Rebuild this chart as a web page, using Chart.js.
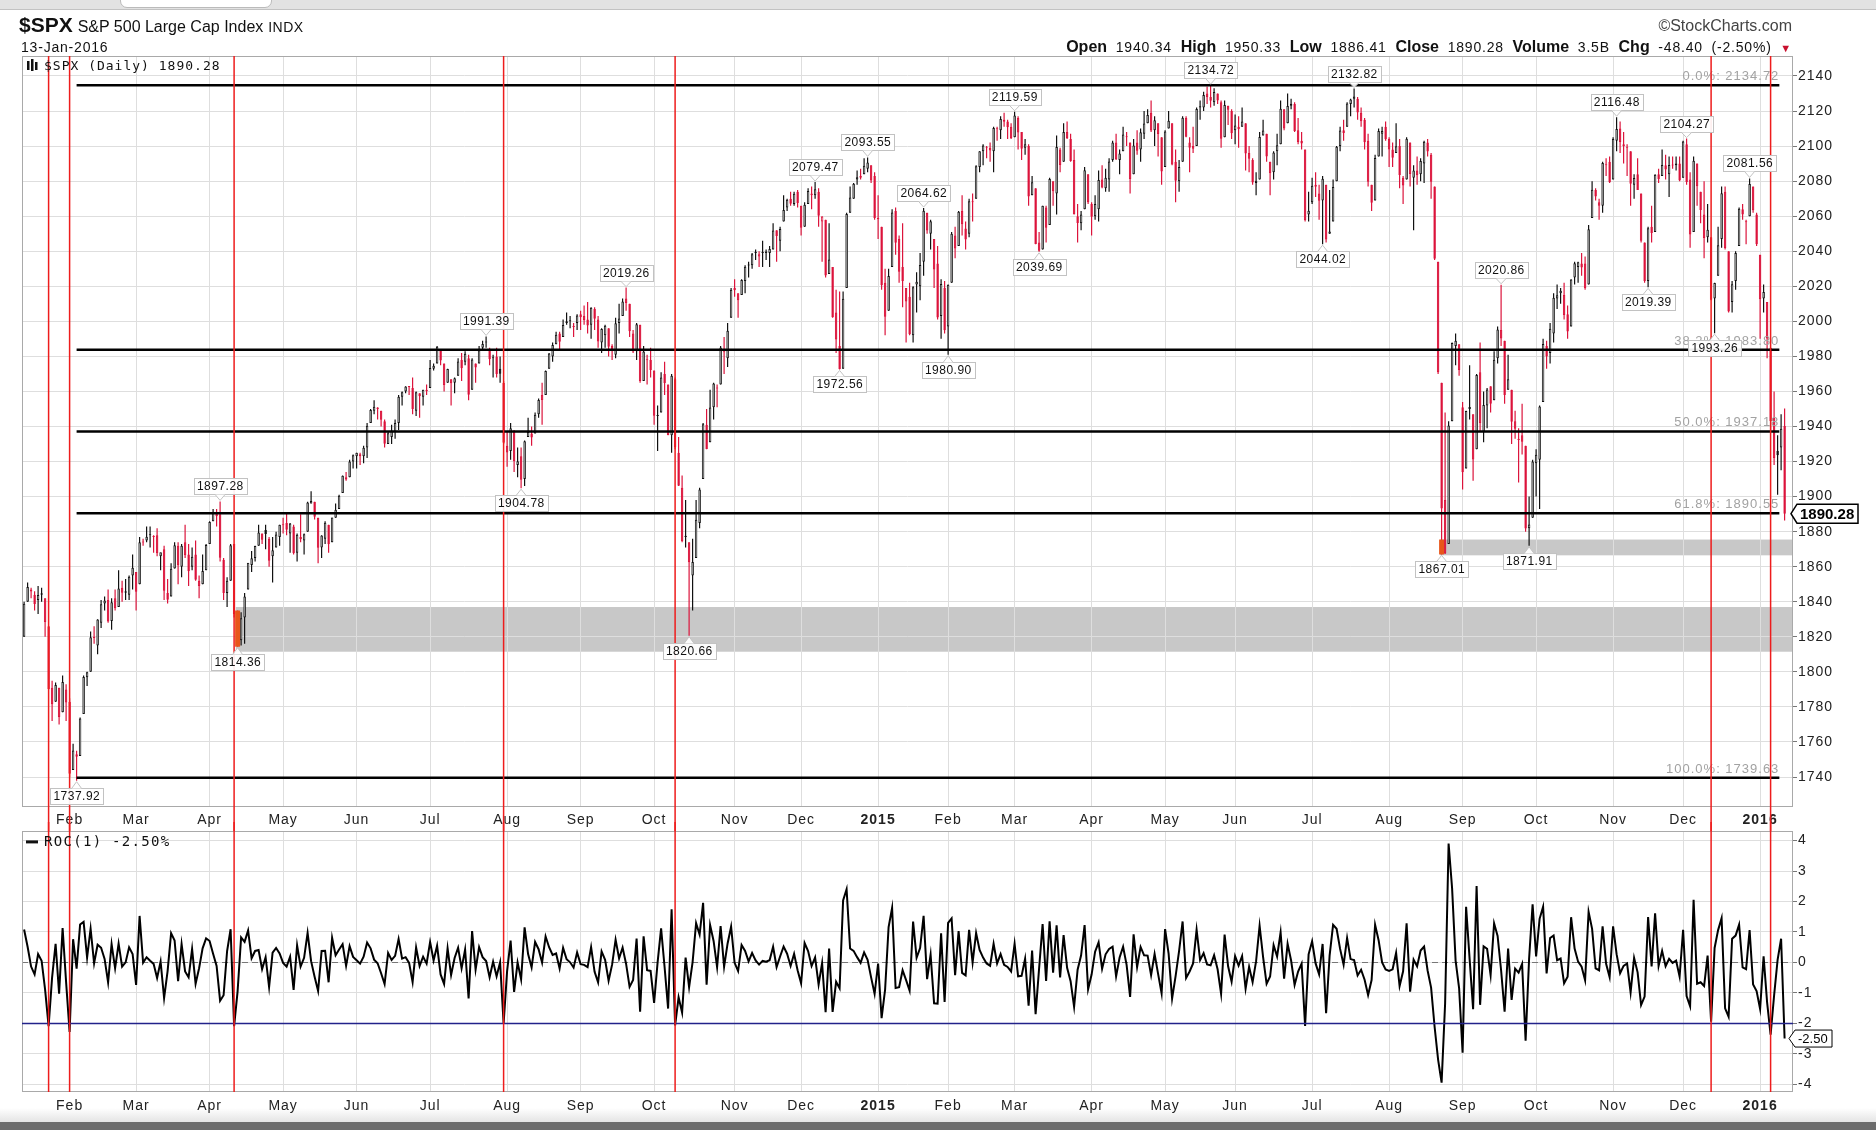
<!DOCTYPE html>
<html>
<head>
<meta charset="utf-8">
<script src="https://cdn.jsdelivr.net/npm/chart.js@4.4.1/dist/chart.umd.min.js"></script>
<style>
  html, body { margin: 0; padding: 0; background: #fff; width: 1876px; height: 1130px; overflow: hidden; }
  body { font-family: "Liberation Sans", Arial, sans-serif; color: #111; }
  #topbar { position: absolute; left: 0; top: 0; width: 1876px; height: 9px; background: #e2e2e2; border-bottom: 1px solid #c2c2c2; }
  #tab { position: absolute; left: 120px; top: -8px; width: 150px; height: 14px; background: #fff; border: 1px solid #bbb; border-radius: 7px; }
  #shade { position: absolute; left: 0; top: 1108px; width: 1876px; height: 14px; background: linear-gradient(#fff, #e4e4e4); }
  #bottom { position: absolute; left: 0; top: 1122px; width: 1876px; height: 8px; background: #6c6c6c; }
  canvas { position: absolute; left: 0; }
  #mainC { top: 0; }
  #rocC { top: 822px; }
  .t { position: absolute; white-space: nowrap; letter-spacing: 0.5px; }
</style>
</head>
<body>
<div id="topbar"><div id="tab"></div></div>
<div id="shade"></div>
<div id="bottom"></div>
<canvas id="mainC" width="1876" height="831"></canvas>
<canvas id="rocC" width="1876" height="300"></canvas>

<div class="t" style="left:19px;top:13px;line-height:24px;">
  <b style="font-size:21px;letter-spacing:0;">$SPX</b>
  <span style="font-size:16px;letter-spacing:0;">S&amp;P 500 Large Cap Index</span>
  <span style="font-size:14px;">INDX</span>
</div>
<div class="t" style="left:21px;top:39px;font-size:14px;line-height:16px;letter-spacing:0.8px;">13-Jan-2016</div>
<div class="t" style="right:84px;top:16px;font-size:16px;line-height:20px;color:#444;letter-spacing:0;">&copy;StockCharts.com</div>
<div class="t" style="right:84px;top:38px;font-size:14px;line-height:18px;word-spacing:4px;letter-spacing:0.8px;">
  <b style="font-size:16px;letter-spacing:0;">Open</b> 1940.34
  <b style="font-size:16px;letter-spacing:0;">High</b> 1950.33
  <b style="font-size:16px;letter-spacing:0;">Low</b> 1886.41
  <b style="font-size:16px;letter-spacing:0;">Close</b> 1890.28
  <b style="font-size:16px;letter-spacing:0;">Volume</b> 3.5B
  <b style="font-size:16px;letter-spacing:0;">Chg</b> -48.40 (-2.50%) <span style="color:#c8102e;font-size:11px;">&#9660;</span>
</div>

<script>
// $SPX daily, 14-Jan-2014 .. 13-Jan-2016
const priorClose = 1819.20; // 13-Jan-2014, used for the first ROC(1) value

// trading days per month (Jan 2014 partial .. Jan 2016 partial)
const monthDays = [13, 19, 21, 21, 21, 21, 22, 21, 21, 23, 19, 22, 20, 19, 22, 21, 20, 22, 22, 21, 21, 22, 20, 22, 8];
const monthLabels = ['Feb', 'Mar', 'Apr', 'May', 'Jun', 'Jul', 'Aug', 'Sep', 'Oct', 'Nov', 'Dec', '2015',
  'Feb', 'Mar', 'Apr', 'May', 'Jun', 'Jul', 'Aug', 'Sep', 'Oct', 'Nov', 'Dec', '2016'];

const closes = [
  1838.88, 1848.38, 1845.89, 1838.70, 1843.80, 1844.86, 1828.46, 1790.29, 1781.56, 1792.50, 1774.20, 1794.19, 1782.59,
  1741.89, 1755.20, 1751.64, 1773.43, 1797.02, 1799.84, 1819.75, 1819.26, 1829.83, 1838.63, 1840.76, 1828.75, 1839.78, 1836.25, 1847.61, 1845.12, 1845.16, 1854.29, 1859.45,
  1845.73, 1873.91, 1873.81, 1877.03, 1878.04, 1877.17, 1867.63, 1868.20, 1846.34, 1841.13, 1858.83, 1872.25, 1860.77, 1872.01, 1866.52, 1857.44, 1865.62, 1852.56, 1849.04, 1857.62, 1872.34,
  1885.52, 1890.90, 1888.77, 1865.09, 1845.04, 1851.96, 1872.18, 1833.08, 1815.69, 1830.61, 1842.98, 1862.31, 1864.85, 1871.89, 1879.55, 1875.39, 1878.61, 1863.40, 1869.43, 1878.33, 1883.95,
  1883.68, 1881.14, 1884.66, 1867.72, 1878.21, 1875.63, 1878.48, 1896.65, 1897.45, 1888.53, 1870.85, 1877.86, 1885.08, 1872.83, 1888.03, 1892.49, 1900.53, 1911.91, 1909.78, 1920.03, 1923.57,
  1924.97, 1924.24, 1927.88, 1940.46, 1949.44, 1951.27, 1950.79, 1943.89, 1930.11, 1936.16, 1937.78, 1941.99, 1956.98, 1959.48, 1962.87, 1962.61, 1949.98, 1959.53, 1957.22, 1960.96, 1960.23,
  1973.32, 1974.62, 1985.44, 1977.65, 1963.71, 1972.83, 1964.68, 1967.57, 1977.10, 1973.28, 1981.57, 1958.12, 1978.22, 1973.63, 1983.53, 1987.01, 1987.98, 1978.34, 1978.91, 1969.95, 1970.07, 1930.67,
  1925.15, 1938.99, 1920.21, 1920.24, 1909.57, 1931.59, 1936.92, 1933.75, 1946.72, 1955.18, 1955.06, 1971.74, 1981.60, 1986.51, 1992.37, 1988.40, 1997.92, 2000.02, 2000.12, 1996.74, 2003.37,
  2002.28, 2000.72, 1997.65, 2007.71, 2001.54, 1988.44, 1995.69, 1997.45, 1985.54, 1984.13, 1998.98, 2001.57, 2011.36, 2010.40, 1994.29, 1982.77, 1998.30, 1965.99, 1982.85, 1977.80, 1972.29,
  1946.16, 1946.17, 1967.90, 1964.82, 1935.10, 1968.89, 1928.21, 1906.13, 1874.74, 1877.70, 1862.49, 1862.76, 1886.76, 1904.01, 1941.28, 1927.11, 1950.82, 1964.58, 1961.63, 1985.05, 1982.30, 1994.65, 2018.05,
  2017.81, 2012.10, 2023.57, 2031.21, 2031.92, 2038.26, 2039.68, 2038.25, 2039.33, 2039.82, 2041.32, 2051.80, 2048.72, 2052.75, 2063.50, 2069.41, 2067.03, 2072.83, 2067.56,
  2053.44, 2066.55, 2074.33, 2071.92, 2075.37, 2060.31, 2059.82, 2026.14, 2035.33, 2002.33, 1989.63, 1972.74, 2012.89, 2061.23, 2070.65, 2078.54, 2082.17, 2081.88, 2088.77, 2090.57, 2080.35, 2058.90,
  2058.20, 2020.58, 2002.61, 2025.90, 2062.14, 2044.81, 2028.26, 2023.03, 2011.27, 1992.67, 2019.42, 2022.55, 2032.12, 2063.15, 2051.82, 2057.09, 2029.55, 2002.16, 2021.25, 1994.99,
  2020.85, 2050.03, 2041.51, 2062.52, 2055.47, 2046.74, 2068.59, 2068.53, 2088.48, 2096.99, 2100.34, 2099.68, 2097.45, 2110.30, 2109.66, 2115.48, 2113.86, 2110.74, 2104.50,
  2117.39, 2107.78, 2098.53, 2101.04, 2071.26, 2079.43, 2044.16, 2040.24, 2065.95, 2053.40, 2081.19, 2074.28, 2099.50, 2089.27, 2108.10, 2104.42, 2091.50, 2061.05, 2056.15, 2061.02, 2086.24, 2067.89,
  2059.69, 2066.96, 2080.62, 2076.33, 2081.90, 2091.18, 2102.06, 2092.43, 2095.84, 2106.63, 2104.99, 2081.18, 2100.40, 2097.29, 2107.96, 2112.93, 2117.69, 2108.92, 2114.76, 2106.85, 2085.51,
  2108.29, 2114.49, 2089.46, 2080.15, 2088.00, 2116.10, 2105.33, 2099.12, 2098.48, 2121.10, 2122.73, 2129.20, 2127.83, 2125.85, 2130.82, 2126.06, 2104.20, 2123.48, 2120.79, 2107.39,
  2111.73, 2109.60, 2114.07, 2095.84, 2092.83, 2079.28, 2080.15, 2105.20, 2108.86, 2094.11, 2084.43, 2096.29, 2100.44, 2121.24, 2109.99, 2122.85, 2124.20, 2108.58, 2102.31, 2101.49, 2057.64, 2063.11,
  2077.42, 2076.78, 2068.76, 2081.34, 2046.68, 2051.31, 2076.62, 2099.60, 2108.95, 2107.40, 2124.29, 2126.64, 2128.28, 2119.21, 2114.15, 2102.15, 2079.65, 2067.64, 2093.25, 2108.57, 2108.63, 2103.84,
  2098.04, 2093.32, 2099.84, 2083.56, 2077.57, 2104.18, 2084.07, 2086.05, 2083.39, 2091.54, 2102.44, 2096.92, 2079.61, 2035.73, 1970.89, 1893.21, 1867.61, 1940.51, 1987.66, 1988.87, 1972.18,
  1913.85, 1948.86, 1951.13, 1921.22, 1969.41, 1942.04, 1952.29, 1961.05, 1953.03, 1978.09, 1995.31, 1990.20, 1958.03, 1966.97, 1942.74, 1938.76, 1932.24, 1931.34, 1881.77, 1884.09, 1920.03,
  1923.82, 1951.36, 1987.05, 1979.92, 1995.83, 2013.43, 2014.89, 2017.46, 2003.69, 1994.24, 2023.86, 2033.11, 2033.66, 2030.77, 2018.94, 2052.51, 2075.15, 2071.18, 2065.89, 2090.35, 2089.41, 2079.36,
  2104.05, 2109.79, 2102.31, 2099.93, 2099.20, 2078.58, 2081.72, 2075.00, 2045.97, 2023.04, 2053.19, 2050.44, 2083.58, 2081.24, 2089.17, 2086.59, 2089.14, 2088.87, 2090.11, 2080.41,
  2102.63, 2079.51, 2049.62, 2091.69, 2077.07, 2063.59, 2047.62, 2052.23, 2012.37, 2021.94, 2043.41, 2073.07, 2041.89, 2005.55, 2021.15, 2038.97, 2064.29, 2060.99, 2056.50, 2078.36, 2063.36, 2043.94,
  2012.66, 2016.71, 1990.26, 1943.09, 1922.03, 1923.67, 1938.68, 1890.28
];

const opens = [
  1820, 1840, 1847, 1844, 1841, 1844, 1842, 1826, 1791, 1783, 1791, 1777, 1790,
  1783, 1744, 1753, 1752, 1776, 1797, 1800, 1820, 1815, 1828, 1839, 1841, 1829, 1842, 1837, 1848, 1846, 1844, 1855,
  1857, 1850, 1874, 1875, 1878, 1877, 1878, 1866, 1870, 1845, 1843, 1859, 1872, 1860, 1874, 1867, 1860, 1867, 1852, 1850, 1858,
  1873, 1886, 1891, 1890, 1864, 1845, 1852, 1873, 1831, 1818, 1831, 1847, 1861, 1865, 1872, 1879, 1881, 1876, 1866, 1871, 1877,
  1884, 1885, 1879, 1883, 1868, 1877, 1875, 1880, 1896, 1897, 1888, 1871, 1876, 1884, 1874, 1888, 1893, 1902, 1911, 1911, 1920,
  1923, 1923, 1923, 1928, 1942, 1949, 1950, 1949, 1943, 1930, 1934, 1937, 1942, 1957, 1960, 1963, 1962, 1949, 1959, 1957, 1961,
  1962, 1973, 1976, 1984, 1976, 1965, 1967, 1965, 1969, 1978, 1977, 1979, 1961, 1976, 1976, 1985, 1988, 1984, 1979, 1980, 1973, 1965,
  1929, 1926, 1937, 1918, 1923, 1910, 1934, 1936, 1936, 1947, 1958, 1958, 1973, 1980, 1987, 1993, 1991, 1999, 2000, 1997, 1999,
  2004, 2003, 2001, 1998, 2007, 2001, 1988, 1992, 1996, 1986, 1981, 1999, 2003, 2013, 2010, 1993, 1983, 1998, 1966, 1978, 1978,
  1972, 1946, 1948, 1970, 1964, 1935, 1967, 1925, 1905, 1877, 1874, 1855, 1865, 1885, 1910, 1941, 1931, 1951, 1962, 1964, 1983, 1979, 2002,
  2019, 2016, 2015, 2023, 2032, 2032, 2039, 2037, 2039, 2039, 2039, 2041, 2052, 2046, 2057, 2065, 2070, 2067, 2074,
  2066, 2054, 2067, 2073, 2072, 2074, 2057, 2058, 2027, 2031, 2005, 1986, 1973, 2019, 2062, 2070, 2081, 2083, 2084, 2087, 2089, 2083,
  2059, 2054, 2022, 2006, 2031, 2063, 2047, 2031, 2019, 2014, 1992, 2021, 2020, 2034, 2062, 2050, 2047, 2033, 2003, 2019,
  1997, 2022, 2049, 2043, 2063, 2053, 2050, 2068, 2070, 2088, 2097, 2099, 2099, 2097, 2110, 2109, 2115, 2114, 2111,
  2105, 2116, 2108, 2099, 2100, 2072, 2076, 2045, 2041, 2065, 2055, 2080, 2073, 2098, 2091, 2108, 2104, 2092, 2060, 2056, 2064, 2084,
  2067, 2060, 2064, 2081, 2076, 2081, 2092, 2102, 2092, 2097, 2105, 2102, 2084, 2102, 2098, 2107, 2113, 2119, 2109, 2113, 2105,
  2088, 2110, 2113, 2091, 2080, 2091, 2116, 2102, 2100, 2100, 2122, 2122, 2130, 2128, 2125, 2130, 2125, 2105, 2123, 2120,
  2109, 2111, 2111, 2113, 2096, 2092, 2079, 2081, 2106, 2107, 2091, 2085, 2097, 2101, 2121, 2113, 2123, 2124, 2109, 2103, 2098, 2061,
  2068, 2078, 2073, 2069, 2078, 2050, 2057, 2080, 2100, 2109, 2111, 2124, 2127, 2127, 2119, 2115, 2103, 2078, 2069, 2094, 2107, 2111,
  2104, 2098, 2096, 2100, 2082, 2081, 2102, 2082, 2086, 2084, 2090, 2102, 2095, 2077, 2034, 1965, 1898, 1873, 1943, 1986, 1987,
  1951, 1916, 1950, 1947, 1927, 1971, 1937, 1952, 1963, 1955, 1979, 1995, 1989, 1961, 1961, 1943, 1933, 1935, 1929, 1882, 1888,
  1919, 1921, 1954, 1986, 1982, 1993, 2013, 2016, 2015, 2004, 1997, 2025, 2031, 2033, 2033, 2021, 2059, 2075, 2068, 2066, 2089, 2091,
  2081, 2103, 2110, 2101, 2099, 2097, 2078, 2084, 2073, 2045, 2023, 2054, 2051, 2084, 2083, 2089, 2084, 2089, 2089, 2090,
  2082, 2101, 2081, 2051, 2090, 2074, 2061, 2048, 2048, 2013, 2026, 2047, 2074, 2040, 2011, 2023, 2043, 2064, 2057, 2060, 2077, 2061,
  2038, 2013, 2011, 1985, 1945, 1926, 1928, 1940.34
];

const highs = [
  1840, 1851, 1848, 1846, 1849, 1848, 1842, 1826, 1795, 1794, 1791, 1798, 1793,
  1785, 1759, 1755, 1774, 1798, 1800, 1823, 1826, 1830, 1841, 1843, 1847, 1842, 1847, 1858, 1852, 1853, 1855, 1867,
  1857, 1877, 1876, 1883, 1883, 1878, 1882, 1868, 1872, 1853, 1862, 1874, 1874, 1873, 1884, 1873, 1871, 1875, 1855, 1867, 1873,
  1886, 1893, 1893, 1897.28, 1865, 1854, 1873, 1873, 1835, 1834, 1845, 1862, 1869, 1872, 1884, 1879, 1884, 1877, 1877, 1880, 1884,
  1888, 1891, 1885, 1884, 1879, 1890, 1879, 1897, 1903, 1897, 1888, 1878, 1886, 1884, 1888, 1896, 1901, 1912, 1914, 1921, 1924,
  1925, 1925, 1929, 1942, 1950, 1955, 1951, 1949, 1944, 1937, 1941, 1944, 1958, 1960, 1963, 1963, 1968, 1960, 1959, 1961, 1964,
  1978, 1976, 1986, 1984, 1976, 1973, 1967, 1968, 1979, 1982, 1983, 1981, 1979, 1976, 1986, 1989, 1991.39, 1985, 1981, 1985, 1980, 1966,
  1937, 1942, 1938, 1928, 1928, 1932, 1945, 1940, 1948, 1956, 1965, 1972, 1982, 1988, 1994, 1994, 2001, 2005, 2003, 1999, 2004,
  2006, 2009, 2011, 2008, 2008, 2003, 1996, 1998, 1996, 1987, 2002, 2010, 2013, 2019.26, 2010, 1995, 1999, 1998, 1986, 1981, 1985,
  1972, 1952, 1971, 1977, 1964, 1970, 1968, 1934, 1912, 1898, 1874, 1876, 1898, 1905, 1942, 1950, 1961, 1965, 1964, 1986, 1991, 1999, 2019,
  2024, 2016, 2024, 2032, 2034, 2039, 2041, 2040, 2046, 2041, 2043, 2056, 2052, 2054, 2072, 2070, 2074, 2074, 2075,
  2066, 2068, 2076, 2077, 2079.47, 2076, 2060, 2058, 2056, 2031, 2018, 2017, 2017, 2062, 2077, 2079, 2086, 2087, 2093, 2093.55, 2089, 2085,
  2072, 2054, 2030, 2030, 2064, 2065, 2049, 2056, 2019, 2022, 2020, 2028, 2039, 2064.62, 2062, 2058, 2047, 2043, 2024, 2023,
  2021, 2051, 2054, 2063, 2072, 2057, 2070, 2073, 2089, 2097, 2101, 2100, 2102, 2111, 2111, 2117, 2119, 2115, 2113,
  2119.59, 2117, 2108, 2104, 2101, 2083, 2076, 2051, 2066, 2066, 2082, 2080, 2106, 2099, 2113, 2114, 2107, 2098, 2067, 2063, 2088, 2084,
  2068, 2072, 2086, 2089, 2087, 2093, 2103, 2107, 2098, 2111, 2108, 2102, 2104, 2109, 2110, 2120, 2121, 2126, 2117, 2113, 2105,
  2109, 2120, 2113, 2098, 2092, 2117, 2117, 2105, 2111, 2122, 2126, 2131, 2134, 2134.72, 2133, 2130, 2126, 2126, 2123, 2121,
  2118, 2117, 2122, 2113, 2100, 2093, 2085, 2108, 2115, 2107, 2091, 2097, 2107, 2126, 2121, 2130, 2127, 2125, 2116, 2108, 2098, 2074,
  2082, 2085, 2078, 2083, 2078, 2075, 2081, 2100, 2111, 2115, 2125, 2127, 2132.82, 2128, 2122, 2116, 2107, 2078, 2095, 2110, 2111, 2114,
  2105, 2102, 2113, 2104, 2083, 2105, 2102, 2089, 2094, 2093, 2103, 2104, 2096, 2077, 2034, 1965, 1948, 1943, 1988, 1993, 1987,
  1954, 1949, 1975, 1947, 1970, 1988, 1960, 1962, 1963, 1983, 1997, 2020.86, 1989, 1981, 1961, 1949, 1939, 1953, 1929, 1900, 1921,
  1927, 1952, 1990, 1989, 1999, 2016, 2021, 2019, 2022, 2009, 2024, 2034, 2034, 2039, 2037, 2055, 2080, 2076, 2070, 2091, 2093, 2094,
  2105, 2116.48, 2114, 2108, 2101, 2097, 2084, 2093, 2073, 2045, 2054, 2066, 2084, 2087, 2098, 2095, 2094, 2094, 2094, 2094,
  2103, 2104.27, 2085, 2094, 2090, 2074, 2080, 2067, 2048, 2022, 2054, 2077, 2077, 2040, 2023, 2040, 2065, 2067, 2058, 2081.56, 2077, 2062,
  2038, 2021, 2011, 1985, 1960, 1935, 1947, 1950.33
];

const lows = [
  1820, 1840, 1842, 1835, 1833, 1840, 1820, 1790, 1772, 1783, 1770, 1777, 1772,
  1740, 1744, 1737.92, 1752, 1776, 1792, 1800, 1816, 1810, 1825, 1835, 1828, 1824, 1835, 1837, 1840, 1841, 1841, 1847,
  1835, 1850, 1872, 1874, 1871, 1868, 1866, 1858, 1841, 1839, 1843, 1859, 1850, 1854, 1865, 1849, 1858, 1852, 1842, 1850, 1858,
  1873, 1886, 1883, 1863, 1841, 1837, 1852, 1831, 1814.36, 1815, 1816, 1847, 1857, 1863, 1872, 1873, 1870, 1860, 1851, 1871, 1872,
  1879, 1878, 1868, 1867, 1863, 1874, 1867, 1880, 1896, 1887, 1862, 1865, 1873, 1868, 1874, 1888, 1893, 1902, 1909, 1911, 1916,
  1916, 1918, 1919, 1922, 1942, 1947, 1944, 1940, 1928, 1930, 1930, 1933, 1938, 1952, 1959, 1958, 1947, 1946, 1945, 1952, 1958,
  1962, 1972, 1976, 1975, 1960, 1965, 1952, 1959, 1969, 1966, 1975, 1955, 1961, 1965, 1976, 1984, 1985, 1975, 1968, 1968, 1965, 1930,
  1917, 1921, 1914, 1911, 1904.78, 1906, 1934, 1929, 1936, 1945, 1941, 1958, 1973, 1977, 1987, 1984, 1991, 1998, 1996, 1991, 1995,
  1995, 1998, 1993, 1990, 1995, 1985, 1982, 1985, 1980, 1978, 1979, 1993, 2003, 2006, 1991, 1982, 1978, 1965, 1966, 1964, 1968,
  1941, 1926, 1948, 1958, 1935, 1925, 1927, 1906, 1874, 1871, 1820.66, 1835, 1865, 1882, 1910, 1927, 1931, 1944, 1951, 1964, 1970, 1974, 2002,
  2014, 2002, 2015, 2016, 2025, 2030, 2035, 2031, 2031, 2035, 2031, 2041, 2034, 2040, 2057, 2063, 2066, 2066, 2065,
  2049, 2054, 2067, 2064, 2070, 2054, 2034, 2025, 2027, 2002, 1982, 1972.56, 1973, 2019, 2062, 2070, 2078, 2081, 2084, 2085, 2079, 2058,
  2047, 2018, 1992, 2006, 2031, 2038, 2022, 2008, 1988, 1992, 1988, 2005, 2012, 2026, 2050, 2041, 2019, 2001, 1990, 1993,
  1980.90, 2022, 2036, 2043, 2049, 2041, 2048, 2057, 2070, 2085, 2089, 2093, 2091, 2085, 2103, 2104, 2111, 2104, 2104,
  2105, 2098, 2092, 2095, 2066, 2072, 2044, 2039.69, 2041, 2045, 2055, 2066, 2061, 2085, 2091, 2104, 2091, 2061, 2045, 2052, 2064, 2067,
  2049, 2058, 2057, 2076, 2074, 2074, 2091, 2092, 2084, 2097, 2100, 2073, 2084, 2095, 2091, 2104, 2113, 2108, 2100, 2094, 2078,
  2088, 2110, 2089, 2068, 2074, 2091, 2105, 2085, 2096, 2100, 2115, 2120, 2124, 2122, 2123, 2124, 2099, 2105, 2112, 2104,
  2101, 2099, 2111, 2086, 2085, 2078, 2072, 2081, 2106, 2091, 2072, 2081, 2089, 2101, 2109, 2113, 2121, 2108, 2101, 2098, 2057, 2057,
  2067, 2071, 2058, 2044.02, 2045, 2050, 2057, 2080, 2097, 2103, 2111, 2117, 2122, 2115, 2111, 2098, 2077, 2063, 2069, 2094, 2094, 2103,
  2088, 2088, 2096, 2076, 2067, 2081, 2077, 2052, 2078, 2080, 2079, 2094, 2070, 2035, 1970, 1867.01, 1867.3, 1873, 1943, 1975, 1969,
  1904, 1916, 1944, 1909, 1927, 1937, 1931, 1939, 1948, 1955, 1976, 1986, 1953, 1961, 1930, 1933, 1908, 1924, 1880, 1871.91, 1888,
  1900, 1893, 1954, 1973, 1976, 1988, 2007, 2010, 2001, 1990, 1997, 2021, 2022, 2026, 2018, 2021, 2059, 2069, 2058, 2062, 2083, 2079,
  2081, 2097, 2096, 2090, 2083, 2066, 2070, 2075, 2045, 2022, 2019.39, 2045, 2051, 2079, 2083, 2081, 2071, 2087, 2086, 2080,
  2082, 2078, 2042, 2051, 2066, 2056, 2036, 2045, 2012, 1993.26, 2026, 2042, 2041, 2005, 2005, 2018, 2043, 2058, 2044, 2060, 2062, 2043,
  1990, 2005, 1979, 1938, 1918, 1901, 1915, 1886.41
];

// annotated swing highs / lows (bar index)
const highMarks = [56, 132, 172, 226, 241, 257, 283, 339, 380, 422, 455, 475, 493];
const lowMarks = [15, 61, 142, 190, 233, 264, 290, 371, 405, 430, 464, 483];

// retracement levels
const fibPct = ['0.0%', '38.2%', '50.0%', '61.8%', '100.0%'];
const fibVals = [2134.72, 1983.80, 1937.18, 1890.55, 1739.63];
const fibFromIdx = 15, fibToIdx = 501.5;

// shaded support zones
const bandFrom = [61, 405];
const bandLow = [1811.5, 1866.5];
const bandHigh = [1837, 1875.5];

// vertical markers
const redLineIdx = [7, 13, 60, 137, 186, 482, 499];

const yTicks = [1740, 1760, 1780, 1800, 1820, 1840, 1860, 1880, 1900, 1920, 1940, 1960, 1980, 2000, 2020, 2040, 2060, 2080, 2100, 2120, 2140];
const rocTicks = [-4, -3, -2, -1, 0, 1, 2, 3, 4];
const rocAlert = -2;

// ---------------------------------------------------------------
const FONT = '"Liberation Sans", Arial, sans-serif';
const MONO = '"DejaVu Sans Mono", monospace';
const RED = '#dc143c';
const X_MIN = -0.6, X_MAX = 505.4;

const prevOf = i => (i === 0 ? priorClose : closes[i - 1]);
const candleCol = closes.map((c, i) => (c >= prevOf(i) ? '#111' : RED));
const bodyFill = closes.map((c, i) => (c > opens[i] ? '#ffffff' : candleCol[i]));
const roc = closes.map((c, i) => (c - prevOf(i)) / prevOf(i) * 100);

const monthStarts = [];
monthDays.slice(0, -1).reduce((acc, d) => { monthStarts.push(acc + d); return acc + d; }, 0);

function xScale(h, pad) {
  return {
    type: 'linear', min: X_MIN, max: X_MAX, offset: false,
    afterBuildTicks: s => { s.ticks = monthStarts.map(v => ({ value: v })); },
    afterFit: s => { s.height = h; },
    grid: { color: '#dedede', drawTicks: false, offset: false },
    border: { display: false },
    ticks: {
      autoSkip: false, maxRotation: 0, padding: pad, color: '#222',
      callback: (v, i) => monthLabels[i],
      font: ctx => ({ family: FONT, size: 14, weight: /^\d{4}$/.test(monthLabels[ctx.index]) ? 'bold' : 'normal' })
    }
  };
}

function yScale(min, max, ticks) {
  return {
    type: 'linear', position: 'right', min, max,
    afterBuildTicks: s => { s.ticks = ticks.map(v => ({ value: v })); },
    afterFit: s => { s.width = 83; },
    grid: { color: '#dedede', tickColor: '#777', tickLength: 4 },
    border: { display: false },
    ticks: { padding: 1, color: '#222', font: { family: FONT, size: 14 }, callback: v => String(v) }
  };
}

function frame(ctx, a) {
  ctx.strokeStyle = '#a9a9a9';
  ctx.lineWidth = 1;
  ctx.strokeRect(Math.round(a.left) + 0.5, Math.round(a.top) + 0.5, Math.round(a.right - a.left) - 1, Math.round(a.bottom - a.top) - 1);
}

function redLines(chart, y0, y1) {
  const { ctx, scales: { x } } = chart;
  ctx.strokeStyle = '#ee1c1c';
  ctx.lineWidth = 1.5;
  redLineIdx.forEach(i => {
    const px = x.getPixelForValue(i);
    ctx.beginPath(); ctx.moveTo(px, y0); ctx.lineTo(px, y1); ctx.stroke();
  });
}

function callout(ctx, cx, py, text, above) {
  ctx.font = '12px ' + FONT;
  ctx.letterSpacing = '0.5px';
  const w = Math.round(ctx.measureText(text).width) + 6, h = 16, gap = 7;
  const left = Math.round(cx - w / 2) + 0.5;
  const top = above ? Math.round(py - gap - h) + 0.5 : Math.round(py + gap) + 0.5;
  ctx.fillStyle = 'rgba(255,255,255,0.92)';
  ctx.strokeStyle = '#c2c2c2';
  ctx.lineWidth = 1;
  ctx.fillRect(left, top, w, h);
  ctx.strokeRect(left, top, w, h);
  const by = above ? top + h : top;
  ctx.beginPath();
  ctx.moveTo(cx - 5, by);
  ctx.lineTo(cx, above ? py - 1 : py + 1);
  ctx.lineTo(cx + 5, by);
  ctx.fill();
  ctx.stroke();
  ctx.fillStyle = '#111';
  ctx.textAlign = 'center';
  ctx.textBaseline = 'middle';
  ctx.fillText(text, cx + 0.25, top + h / 2 + 0.5);
}

function priceTag(ctx, xTip, py, text, font, h, lw) {
  ctx.font = font;
  ctx.letterSpacing = '0px';
  const w = Math.round(ctx.measureText(text).width) + 7;
  const x0 = xTip + 6;
  ctx.beginPath();
  ctx.moveTo(xTip, py);
  ctx.lineTo(x0, py - h / 2);
  ctx.lineTo(x0 + w, py - h / 2);
  ctx.lineTo(x0 + w, py + h / 2);
  ctx.lineTo(x0, py + h / 2);
  ctx.closePath();
  ctx.fillStyle = '#fff';
  ctx.fill();
  ctx.strokeStyle = '#000';
  ctx.lineWidth = lw;
  ctx.stroke();
  ctx.fillStyle = '#000';
  ctx.textAlign = 'left';
  ctx.textBaseline = 'middle';
  ctx.fillText(text, x0 + 3, py + 1);
}

const mainOverlay = {
  id: 'mainOverlay',
  beforeDraw(chart) {
    const { ctx, chartArea: a, scales: { x, y } } = chart;
    ctx.letterSpacing = '1px';
    ctx.save();
    ctx.fillStyle = '#c8c8c8';
    bandFrom.forEach((b, k) => {
      const x0 = x.getPixelForValue(b - 0.5);
      const y0 = y.getPixelForValue(bandHigh[k]);
      const y1 = y.getPixelForValue(bandLow[k]);
      ctx.fillRect(x0, y0, a.right - x0, y1 - y0);
    });
    ctx.restore();
  },
  afterDatasetsDraw(chart) {
    const { ctx, chartArea: a, scales: { x, y } } = chart;
    ctx.save();
    // candle portion inside the support band
    ctx.fillStyle = '#e8561a';
    bandFrom.forEach((i, k) => {
      const lo = Math.max(lows[i], bandLow[k]), hi = Math.min(highs[i], bandHigh[k]);
      const px = x.getPixelForValue(i);
      ctx.fillRect(px - 2.5, y.getPixelForValue(hi), 5, y.getPixelForValue(lo) - y.getPixelForValue(hi));
    });
    frame(ctx, a);
    // retracement lines
    const fx0 = x.getPixelForValue(fibFromIdx), fx1 = x.getPixelForValue(fibToIdx);
    fibVals.forEach((v, k) => {
      const py = y.getPixelForValue(v);
      ctx.strokeStyle = '#000';
      ctx.lineWidth = 2.5;
      ctx.beginPath(); ctx.moveTo(fx0, py); ctx.lineTo(fx1, py); ctx.stroke();
      ctx.font = '13px ' + FONT;
      ctx.letterSpacing = '1px';
      ctx.fillStyle = '#a2a2a2';
      ctx.textAlign = 'right';
      ctx.textBaseline = 'alphabetic';
      ctx.fillText(fibPct[k] + ': ' + v.toFixed(2), fx1, py - 5);
    });
    redLines(chart, a.top, chart.height);
    highMarks.forEach(i => callout(ctx, x.getPixelForValue(i), y.getPixelForValue(highs[i]), highs[i].toFixed(2), true));
    lowMarks.forEach(i => callout(ctx, x.getPixelForValue(i), y.getPixelForValue(lows[i]), lows[i].toFixed(2), false));
    const last = closes[closes.length - 1];
    priceTag(ctx, a.right - 2, y.getPixelForValue(last), last.toFixed(2), 'bold 15px ' + FONT, 19, 1.5);
    // panel caption with a small candle glyph
    ctx.fillStyle = '#111';
    [[27, 61, 9], [31, 59, 12], [35, 62, 8]].forEach(([gx, gy, gh]) => ctx.fillRect(gx, gy, 2.5, gh));
    ctx.font = '13px ' + MONO;
    ctx.letterSpacing = '1px';
    ctx.textAlign = 'left';
    ctx.textBaseline = 'middle';
    ctx.fillText('$SPX (Daily) ' + last.toFixed(2), 44, a.top + 11);
    ctx.restore();
  }
};

new Chart(document.getElementById('mainC'), {
  type: 'bar',
  data: {
    datasets: [
      {
        data: closes.map((c, i) => ({ x: i, y: [opens[i], c] })),
        grouped: false, maxBarThickness: 3, minBarLength: 1,
        backgroundColor: bodyFill, borderColor: candleCol, borderWidth: 1, borderSkipped: false, order: 0
      },
      {
        data: closes.map((c, i) => ({ x: i, y: [lows[i], highs[i]] })),
        grouped: false, maxBarThickness: 1.2,
        backgroundColor: candleCol, borderWidth: 0, order: 1
      }
    ]
  },
  options: {
    responsive: false, animation: false, events: [],
    layout: { padding: { left: 22, top: 56, right: 0, bottom: 0 } },
    plugins: { legend: { display: false }, tooltip: { enabled: false } },
    scales: { x: xScale(24, 5), y: yScale(1722.9, 2151.4, yTicks) }
  },
  plugins: [mainOverlay]
});

const rocOverlay = {
  id: 'rocOverlay',
  beforeDraw(chart) { chart.ctx.letterSpacing = '1px'; },
  beforeDatasetsDraw(chart) {
    const { ctx, chartArea: a, scales: { y } } = chart;
    ctx.save();
    const py = Math.round(y.getPixelForValue(0)) + 0.5;
    ctx.strokeStyle = '#777';
    ctx.lineWidth = 1;
    ctx.setLineDash([6, 4]);
    ctx.beginPath(); ctx.moveTo(a.left, py); ctx.lineTo(a.right, py); ctx.stroke();
    ctx.restore();
  },
  afterDatasetsDraw(chart) {
    const { ctx, chartArea: a, scales: { y } } = chart;
    ctx.save();
    frame(ctx, a);
    const by = y.getPixelForValue(rocAlert);
    ctx.strokeStyle = '#22228a';
    ctx.lineWidth = 1.5;
    ctx.beginPath(); ctx.moveTo(a.left, by); ctx.lineTo(a.right, by); ctx.stroke();
    redLines(chart, 0, a.bottom);
    const last = roc[roc.length - 1];
    ctx.fillStyle = '#111';
    ctx.fillRect(26, a.top + 9, 12, 3);
    ctx.font = '14px ' + MONO;
    ctx.letterSpacing = '1.3px';
    ctx.textAlign = 'left';
    ctx.textBaseline = 'middle';
    ctx.fillText('ROC(1) ' + last.toFixed(2) + '%', 44, a.top + 11);
    priceTag(ctx, a.right - 4, y.getPixelForValue(last), last.toFixed(2), '13px ' + FONT, 17, 1);
    ctx.restore();
  }
};

new Chart(document.getElementById('rocC'), {
  type: 'line',
  data: {
    datasets: [{
      data: roc.map((v, i) => ({ x: i, y: v })),
      borderColor: '#000', borderWidth: 2, pointRadius: 0, tension: 0, fill: false
    }]
  },
  options: {
    responsive: false, animation: false, events: [],
    layout: { padding: { left: 22, top: 9, right: 0, bottom: 0 } },
    plugins: { legend: { display: false }, tooltip: { enabled: false } },
    scales: { x: xScale(30, 6), y: yScale(-4.25, 4.3, rocTicks) }
  },
  plugins: [rocOverlay]
});
</script>
</body>
</html>
